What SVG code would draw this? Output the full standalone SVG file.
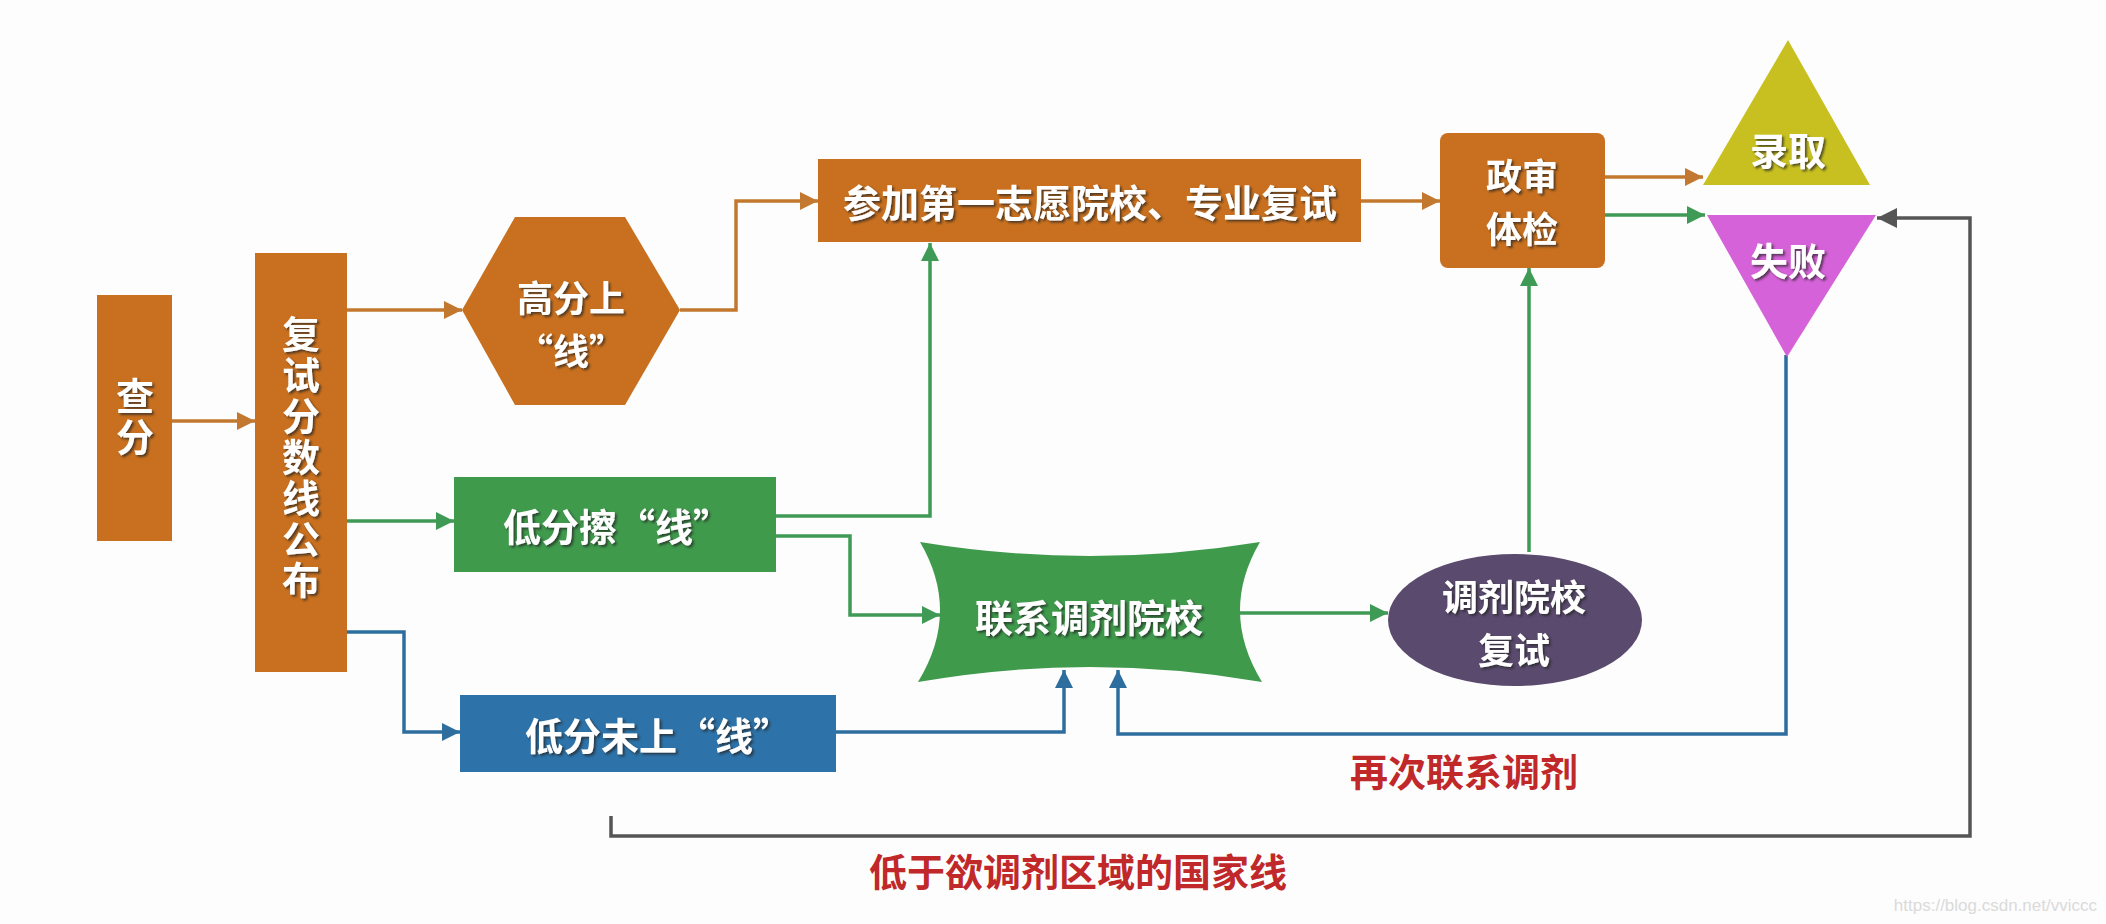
<svg xmlns="http://www.w3.org/2000/svg" width="2106" height="924" viewBox="0 0 2106 924">
<style>
.t{font-family:"Noto Sans CJK SC","Noto Sans",sans-serif;font-weight:bold;font-size:38px;fill:#fff;text-anchor:middle;dominant-baseline:central;filter:url(#sh)}
.m{font-size:36px}
.v{writing-mode:vertical-rl;text-orientation:upright;letter-spacing:3px}
.r{font-family:"Noto Sans CJK SC","Noto Sans",sans-serif;font-weight:bold;font-size:38px;fill:#c0282a;text-anchor:middle;dominant-baseline:central}
.c{fill:none;stroke-width:3.5;stroke-linejoin:miter}
.o{stroke:#c2782f;marker-end:url(#ao)}
.g{stroke:#3f9a55;marker-end:url(#ag)}
.b{stroke:#2e6e9e;marker-end:url(#ab)}
.k{stroke:#555;marker-end:url(#ak)}
.or{fill:#c8701f}
.gr{fill:#3f9a4c}
.bl{fill:#2d72a8}
</style>
<defs>
<filter id="sh" x="-20%" y="-20%" width="140%" height="140%">
<feDropShadow dx="2" dy="2" stdDeviation="1" flood-color="#222" flood-opacity="0.7"/>
</filter>
<marker id="ao" markerUnits="userSpaceOnUse" markerWidth="18" markerHeight="18" refX="18" refY="9" orient="auto"><path d="M0,0 L18,9 L0,18 Z" fill="#c2782f"/></marker>
<marker id="ag" markerUnits="userSpaceOnUse" markerWidth="18" markerHeight="18" refX="18" refY="9" orient="auto"><path d="M0,0 L18,9 L0,18 Z" fill="#3f9a55"/></marker>
<marker id="ab" markerUnits="userSpaceOnUse" markerWidth="18" markerHeight="18" refX="18" refY="9" orient="auto"><path d="M0,0 L18,9 L0,18 Z" fill="#2e6e9e"/></marker>
<marker id="ak" markerUnits="userSpaceOnUse" markerWidth="20" markerHeight="20" refX="20" refY="10" orient="auto"><path d="M0,0 L20,10 L0,20 Z" fill="#555"/></marker>
</defs>
<rect width="2106" height="924" fill="#fdfdfd"/>

<g id="connectors">
<path class="c o" d="M172,421 H255"/>
<path class="c o" d="M347,310 H462"/>
<path class="c o" d="M680,310 H736 V201 H818"/>
<path class="c o" d="M1361,201 H1440"/>
<path class="c o" d="M1605,177 H1703"/>
<path class="c g" d="M1605,215 H1705"/>
<path class="c g" d="M347,521 H454"/>
<path class="c b" d="M347,632 H404 V732 H460"/>
<path class="c g" d="M776,516 H930 V243"/>
<path class="c g" d="M776,536 H850 V615 H940"/>
<path class="c g" d="M1240,613 H1388"/>
<path class="c g" d="M1529,552 V268"/>
<path class="c b" d="M836,732 H1064 V670"/>
<path class="c b" d="M1786,355 V734 H1118 V670"/>
<path class="c k" d="M611,816 V836 H1970 V218 H1877"/>
</g>

<g id="n-chafen">
<rect class="or" x="97" y="295" width="75" height="246"/>
<text class="t v" x="135" y="418">查分</text>
</g>

<g id="n-gongbu">
<rect class="or" x="255" y="253" width="92" height="419"/>
<text class="t v" x="301" y="458">复试分数线公布</text>
</g>

<g id="n-gaofen">
<polygon class="or" points="462,310 515,217 625,217 680,310 625,405 515,405"/>
<text class="t m" x="571" y="296">高分上</text>
<text class="t m" x="571" y="349">“线”</text>
</g>

<g id="n-canjia">
<rect class="or" x="818" y="159" width="543" height="83"/>
<text class="t" x="1090" y="200">参加第一志愿院校、专业复试</text>
</g>

<g id="n-zhengshen">
<rect class="or" x="1440" y="133" width="165" height="135" rx="8"/>
<text class="t m" x="1522" y="174">政审</text>
<text class="t m" x="1522" y="227">体检</text>
</g>

<g id="n-luqu">
<polygon points="1788,40 1870,185 1703,185" fill="#c8c020"/>
<text class="t" x="1788" y="148">录取</text>
</g>

<g id="n-shibai">
<polygon points="1707,215 1876,215 1787,357" fill="#d562d8"/>
<text class="t" x="1788" y="258">失败</text>
</g>

<g id="n-cha">
<rect class="gr" x="454" y="477" width="322" height="95"/>
<text class="t" x="617" y="524">低分擦“线”</text>
</g>

<g id="n-weishang">
<rect class="bl" x="460" y="695" width="376" height="77"/>
<text class="t" x="658" y="733">低分未上“线”</text>
</g>

<g id="n-lianxi">
<path class="gr" d="M920,542 Q1090,570 1260,542 Q1219,612 1262,682 Q1090,652 918,682 Q961,612 920,542 Z"/>
<text class="t" x="1089" y="615">联系调剂院校</text>
</g>

<g id="n-tiaoji">
<ellipse cx="1515" cy="620" rx="127" ry="66" fill="#5a4a6e"/>
<text class="t m" x="1514" y="595">调剂院校</text>
<text class="t m" x="1514" y="648">复试</text>
</g>

<g id="labels">
<text class="r" x="1464" y="769">再次联系调剂</text>
<text class="r" x="1078" y="869">低于欲调剂区域的国家线</text>
<text x="2097" y="905" font-family="Liberation Sans, Arial, sans-serif" font-size="17" fill="#dadada" text-anchor="end" dominant-baseline="central">https://blog.csdn.net/vviccc</text>
</g>
</svg>
